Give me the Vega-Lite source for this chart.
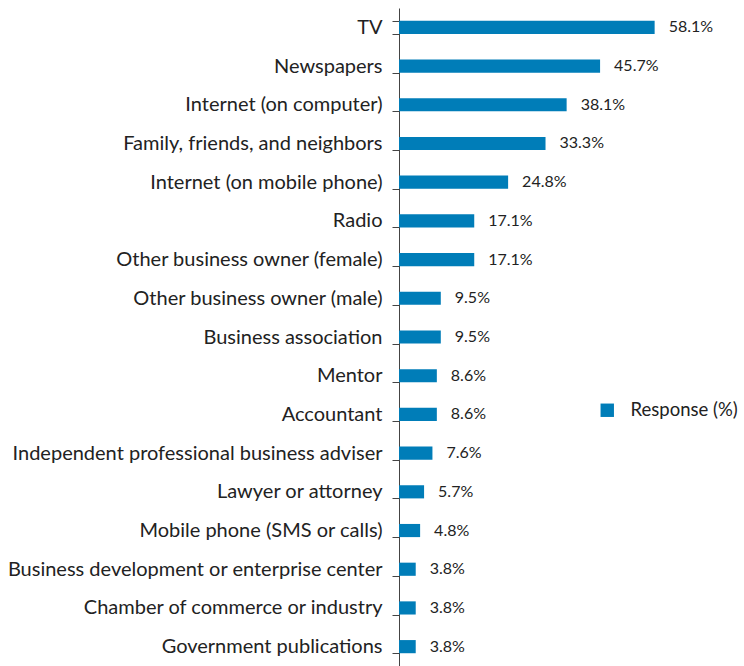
{
  "$schema": "https://vega.github.io/schema/vega-lite/v6.json",
  "width": 264,
  "height": 658,
  "autosize": {"type": "none"},
  "padding": {"left": 399, "top": 8, "right": 81, "bottom": 0},
  "background": "white",
  "config": {"view": {"stroke": null}, "font": "Lato"},
  "data": {"values": [
    {"source": "TV", "value": 58.1, "label": "58.1%"},
    {"source": "Newspapers", "value": 45.7, "label": "45.7%"},
    {"source": "Internet (on computer)", "value": 38.1, "label": "38.1%"},
    {"source": "Family, friends, and neighbors", "value": 33.3, "label": "33.3%"},
    {"source": "Internet (on mobile phone)", "value": 24.8, "label": "24.8%"},
    {"source": "Radio", "value": 17.1, "label": "17.1%"},
    {"source": "Other business owner (female)", "value": 17.1, "label": "17.1%"},
    {"source": "Other business owner (male)", "value": 9.5, "label": "9.5%"},
    {"source": "Business association", "value": 9.5, "label": "9.5%"},
    {"source": "Mentor", "value": 8.6, "label": "8.6%"},
    {"source": "Accountant", "value": 8.6, "label": "8.6%"},
    {"source": "Independent professional business adviser", "value": 7.6, "label": "7.6%"},
    {"source": "Lawyer or attorney", "value": 5.7, "label": "5.7%"},
    {"source": "Mobile phone (SMS or calls)", "value": 4.8, "label": "4.8%"},
    {"source": "Business development or enterprise center", "value": 3.8, "label": "3.8%"},
    {"source": "Chamber of commerce or industry", "value": 3.8, "label": "3.8%"},
    {"source": "Government publications", "value": 3.8, "label": "3.8%"}
  ]},
  "encoding": {
    "y": {"field": "source", "type": "nominal", "sort": null,
      "scale": {"paddingInner": 0.66, "paddingOuter": 0.33},
      "axis": {"title": null, "domainColor": "#444", "tickColor": "#444", "tickBand": "extent", "tickSize": 7,
        "labelFontSize": 20, "labelColor": "#222", "labelPadding": 10, "labelLimit": 400}},
    "x": {"field": "value", "type": "quantitative", "scale": {"domain": [0, 60]}, "axis": null}
  },
  "layer": [
    {"mark": {"type": "bar", "color": "#007DB8"},
     "encoding": {"color": {"datum": "Response (%)", "scale": {"range": ["#007DB8"]},
       "legend": {"title": null, "orient": "none", "legendX": 199, "legendY": 393, "symbolType": "square", "symbolSize": 180, "symbolStrokeWidth": 0, "symbolOpacity": 1, "labelFontSize": 18.5, "labelColor": "#222", "labelOffset": 14}}}},
    {"mark": {"type": "text", "align": "left", "dx": 14, "fontSize": 16, "color": "#222"},
     "encoding": {"text": {"field": "label", "type": "nominal"}}}
  ]
}
